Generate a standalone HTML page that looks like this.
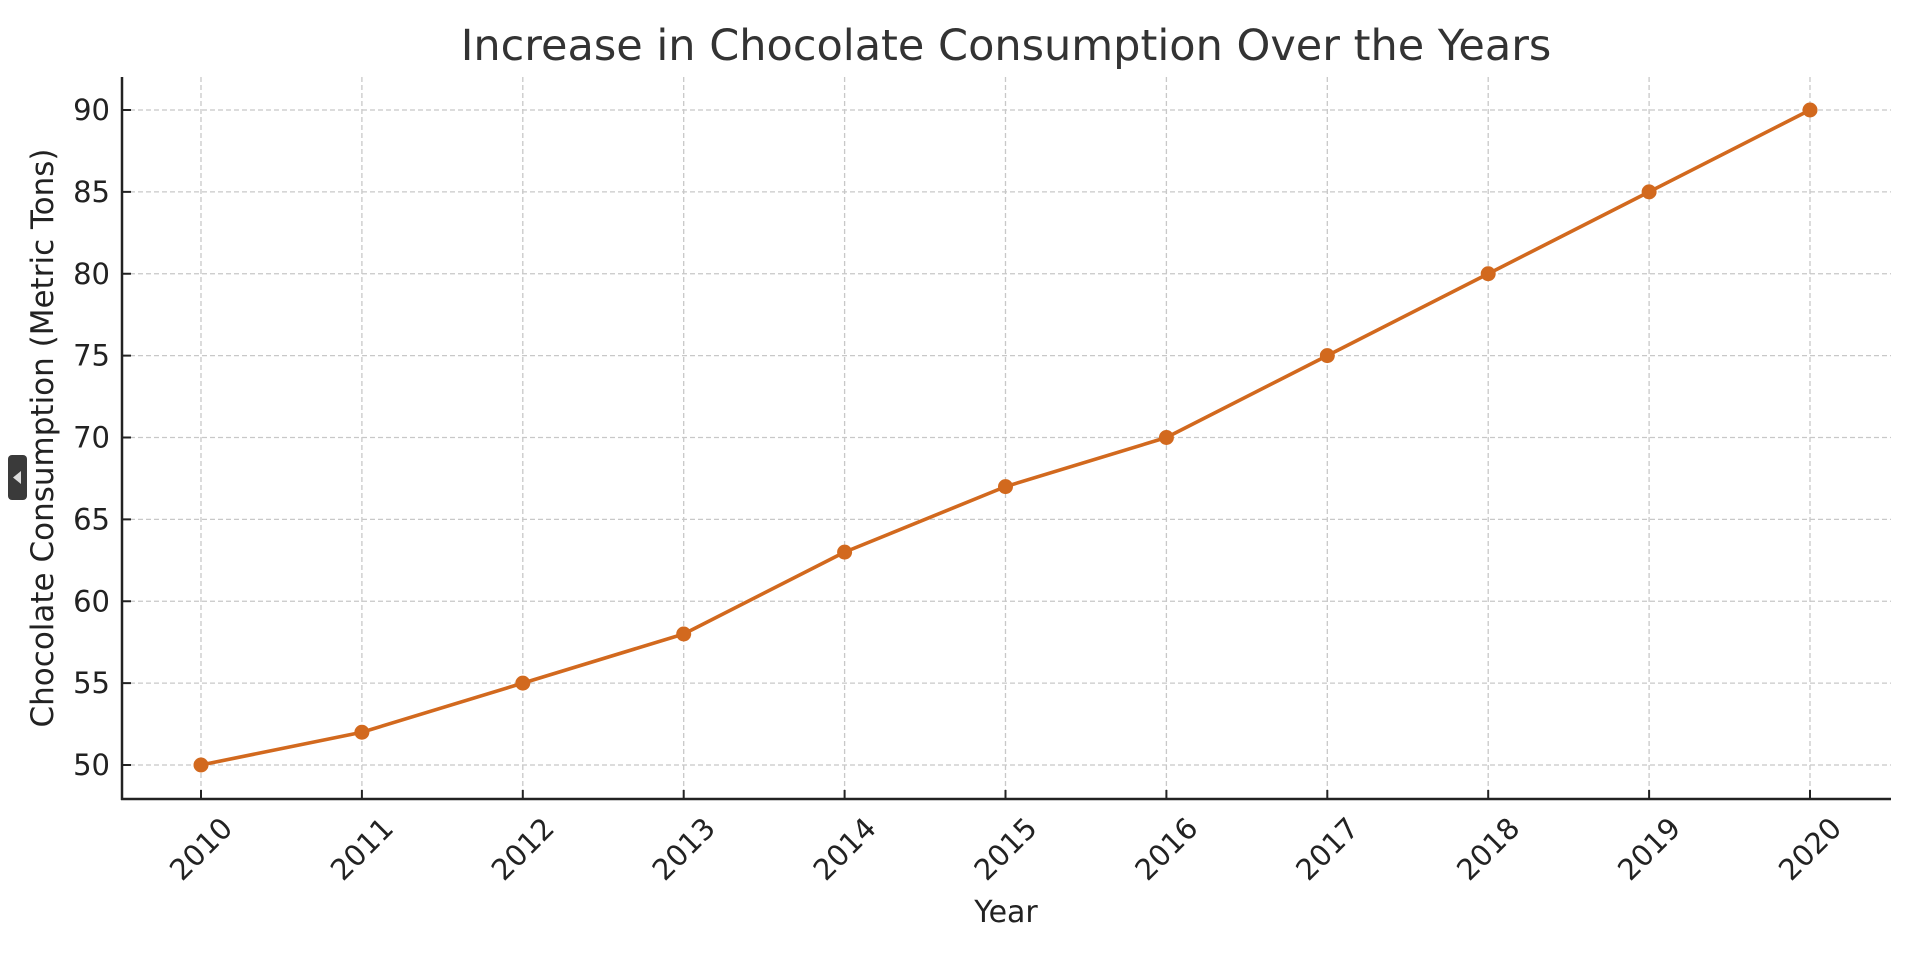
<!DOCTYPE html>
<html><head><meta charset="utf-8"><style>
html,body{margin:0;padding:0;background:#fff;}
svg{display:block;font-family:"DejaVu Sans","Liberation Sans",sans-serif;}
</style></head><body>
<svg id="chart" width="1909" height="956" viewBox="0 0 1909 956">
<text x="1006" y="60" font-size="43" fill="#333" text-anchor="middle">Increase in Chocolate Consumption Over the Years</text>
<g id="grid"></g>
<g id="axes"></g>
<g id="series"></g>
<text x="1006" y="922" font-size="30" fill="#222" text-anchor="middle">Year</text>
<text transform="translate(53,438) rotate(-90)" font-size="31" fill="#222" text-anchor="middle">Chocolate Consumption (Metric Tons)</text>
<rect x="8" y="455" width="19" height="45" rx="4" fill="#3a3a3a"/>
<path d="M21 471 L13 477.5 L21 484 Z" fill="#ddd"/>
</svg>
<script>
const years = [2010,2011,2012,2013,2014,2015,2016,2017,2018,2019,2020];
const consumption = [50,52,55,58,63,67,70,75,80,85,90];
const yTicks = [50,55,60,65,70,75,80,85,90];

const NS = "http://www.w3.org/2000/svg";
const L = 122, R = 1891, T = 77, B = 799;
function xs(v){ return 201 + (v - 2010) * (1810 - 201) / 10; }
function ys(v){ return 765 - (v - 50) * (765 - 110) / 40; }
function mk(tag, attrs, parent){
  const e = document.createElementNS(NS, tag);
  for (const k in attrs) e.setAttribute(k, attrs[k]);
  parent.appendChild(e); return e;
}
const grid = document.getElementById('grid');
const axes = document.getElementById('axes');
const series = document.getElementById('series');

years.forEach(y => {
  const x = xs(y);
  const g = mk('line', {x1:x, x2:x, y1:T, y2:B, stroke:'#c8c8c8', 'stroke-width':1.3, 'stroke-dasharray':'5,3'}, grid);
  
  
  const t = mk('line', {x1:x, x2:x, y1:B, y2:B-9, stroke:'#222', 'stroke-width':2}, axes);
  
  
  const lb = mk('text', {x:0, y:0, 'font-size':29, fill:'#222', 'text-anchor':'middle', 'dominant-baseline':'central', transform:`translate(${x},${B+50}) rotate(-45)`}, axes);
  lb.textContent = y;
  
  
});
yTicks.forEach(v => {
  const y = ys(v);
  const g = mk('line', {x1:L, x2:R, y1:y, y2:y, stroke:'#c8c8c8', 'stroke-width':1.3, 'stroke-dasharray':'5,3'}, grid);
  
  
  const t = mk('line', {x1:L, x2:L+9, y1:y, y2:y, stroke:'#222', 'stroke-width':2}, axes);
  
  
  const lb = mk('text', {x:L-12, y:y, 'font-size':29, fill:'#222', 'text-anchor':'end', 'dominant-baseline':'central'}, axes);
  lb.textContent = v;
  
  
});
const ax1 = mk('line', {x1:L, x2:L, y1:T, y2:B+1, stroke:'#222', 'stroke-width':2.5}, axes);


const ax2 = mk('line', {x1:L-1, x2:R, y1:B, y2:B, stroke:'#222', 'stroke-width':2.5}, axes);



const pts = years.map((y,i) => xs(y) + ',' + ys(consumption[i])).join(' ');
const pl = mk('polyline', {points:pts, fill:'none', stroke:'#d2691e', 'stroke-width':3.6, 'stroke-linejoin':'round'}, series);


years.forEach((y,i) => {
  const c = mk('circle', {cx:xs(y), cy:ys(consumption[i]), r:7.5, fill:'#d2691e'}, series);
  
  
});
</script>
</body></html>
